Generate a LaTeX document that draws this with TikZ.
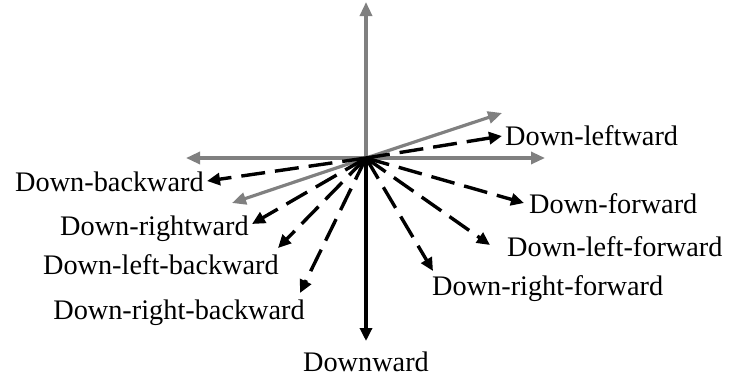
\documentclass[tikz,border=0pt]{standalone}
\usepackage{fontspec}
\setmainfont{Liberation Serif}
\usetikzlibrary{arrows.meta}
\definecolor{axisgray}{RGB}{128,128,128}
\begin{document}
\begin{tikzpicture}[x=1pt,y=-1pt,
  grayarrow/.style={draw=axisgray,line width=3.2pt,-{Triangle[length=14pt,width=12pt]}},
  dasharrow/.style={draw=black,line width=3.4pt,dash pattern=on 24pt off 10pt,-{Triangle[length=13pt,width=12pt]}},
  solidarrow/.style={draw=black,line width=3.2pt,-{Triangle[length=13pt,width=12pt]}},
  lbl/.style={inner sep=0pt,font=\fontsize{28.3}{30}\selectfont}]
\useasboundingbox (0,0) rectangle (730,383);
\coordinate (O) at (366,158);
% gray axes tips
\coordinate (gU) at (366,2);
\coordinate (gL) at (186,158);
\coordinate (gR) at (545,158);
\coordinate (gUR) at (502,113);
\coordinate (gDL) at (232,203);
% dashed tips
\coordinate (tDLw) at (502,136);
\coordinate (tDB) at (207,181);
\coordinate (tDRw) at (252,224);
\coordinate (tDLB) at (278,248);
\coordinate (tDRB) at (300,293);
\coordinate (tDF) at (524,203);
\coordinate (tDLF) at (490,245);
\coordinate (tDRF) at (433,271);
\coordinate (tD) at (366,341);
% gray
\draw[grayarrow] (O) -- (gU);
\draw[grayarrow] (O) -- (gL);
\draw[grayarrow] (O) -- (gR);
\draw[grayarrow] (O) -- (gUR);
\draw[grayarrow] (O) -- (gDL);
% dashed
\draw[dasharrow] (O) -- (tDLw);
\draw[dasharrow] (O) -- (tDB);
\draw[dasharrow] (O) -- (tDRw);
\draw[dasharrow] (O) -- (tDLB);
\draw[dasharrow] (O) -- (tDRB);
\draw[dasharrow] (O) -- (tDF);
\draw[dasharrow] (O) -- (tDLF);
\draw[dasharrow] (O) -- (tDRF);
\draw[solidarrow] (O) -- (tD);
% labels
\node[lbl,anchor=base west] (nDLw) at (505,145) {Down-leftward};
\node[lbl,anchor=base east] (nDB) at (204,191) {Down-backward};
\node[lbl,anchor=base east] (nDRw) at (249,235) {Down-rightward};
\node[lbl,anchor=base east] (nDLB) at (279,274) {Down-left-backward};
\node[lbl,anchor=base east] (nDRB) at (305,319) {Down-right-backward};
\node[lbl,anchor=base west] (nDF) at (529,213) {Down-forward};
\node[lbl,anchor=base west] (nDLF) at (507,256) {Down-left-forward};
\node[lbl,anchor=base west] (nDRF) at (432,295) {Down-right-forward};
\node[lbl,anchor=base] (nD) at (366,371) {Downward};
\end{tikzpicture}
\end{document}
